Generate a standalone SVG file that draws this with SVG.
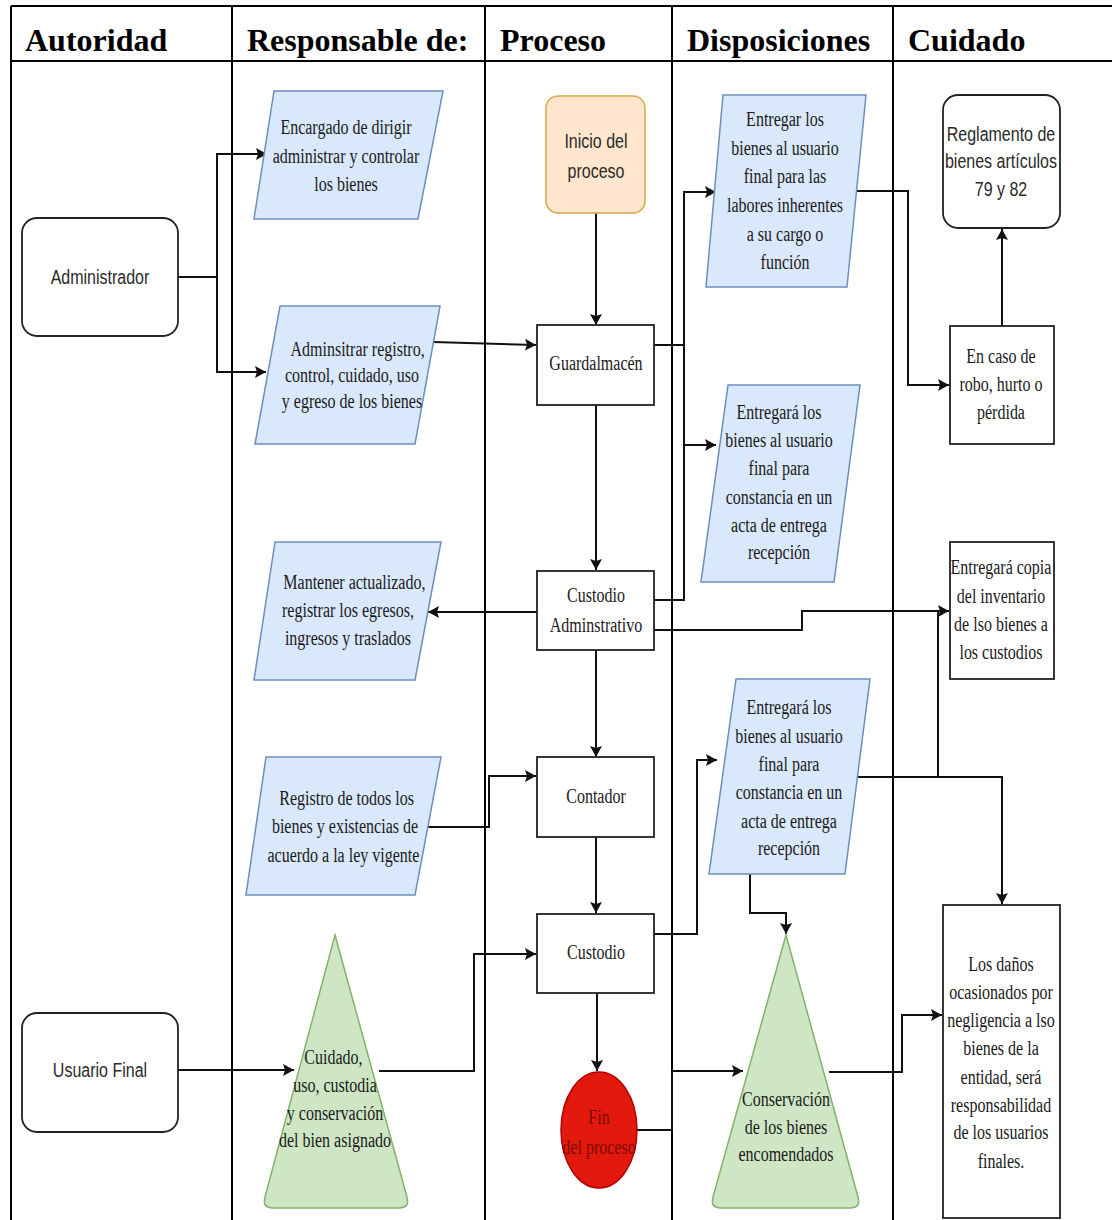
<svg xmlns="http://www.w3.org/2000/svg" width="1112" height="1220" viewBox="0 0 1112 1220">
<style>
.tl{stroke:#000;stroke-width:2;fill:none}
.hd{font-family:"Liberation Serif",serif;font-weight:bold;font-size:32px;fill:#000}
.c{fill:none;stroke:#111;stroke-width:2}
.ca{marker-end:url(#arr)}
.para{fill:#dae8fc;stroke:#6c8ebf;stroke-width:1.5}
.box{fill:#fff;stroke:#222;stroke-width:1.8}
.tri{fill:#cfe6c4;stroke:#82b366;stroke-width:1.5}
.t{font-family:"Liberation Serif",serif;font-size:20px;fill:#1a1a1a;text-anchor:middle}
.s{font-family:"Liberation Sans",sans-serif;font-size:20px;fill:#2a2a2a;text-anchor:middle}
</style>
<defs>
<marker id="arr" markerWidth="11" markerHeight="12" refX="11" refY="6" orient="auto" markerUnits="userSpaceOnUse">
<path d="M0,0 L11,6 L0,12 L2,6 Z" fill="#111"/>
</marker>
</defs>
<rect width="1112" height="1220" fill="#fff"/>
<g id="table">
<path class="tl" d="M11,6 H1112 M11,61 H1112 M11,6 V1220 M232,6 V1220 M485,6 V1220 M672,6 V1220 M893,6 V1220"/>
<text class="hd" x="25" y="51">Autoridad</text>
<text class="hd" x="247" y="51">Responsable de:</text>
<text class="hd" x="500" y="51">Proceso</text>
<text class="hd" x="687" y="51">Disposiciones</text>
<text class="hd" x="908" y="51">Cuidado</text>
</g>
<g id="connectors">
<path class="c ca" d="M178,277 H217 V154 H267"/>
<path class="c ca" d="M217,277 V372 H266"/>
<path class="c ca" d="M433,342 L536,345"/>
<path class="c ca" d="M596,213 V325"/>
<path class="c ca" d="M596,405 V570"/>
<path class="c ca" d="M596,650 V757"/>
<path class="c ca" d="M596,837 V913"/>
<path class="c ca" d="M597,993 V1071"/>
<path class="c ca" d="M654,345 H684 V192 H716"/>
<path class="c" d="M684,345 V600 H654"/>
<path class="c ca" d="M684,445 H716"/>
<path class="c ca" d="M537,612 H428"/>
<path class="c ca" d="M654,630 H802 V611 H949"/>
<path class="c ca" d="M856,191 H908 V385 H949"/>
<path class="c ca" d="M1002,326 V229"/>
<path class="c ca" d="M428,827 H489 V776 H536"/>
<path class="c ca" d="M654,934 H697 V760 H717"/>
<path class="c ca" d="M858,777 H1002 V904"/>
<path class="c" d="M938,777 V611"/>
<path class="c ca" d="M750,874 V913 H786 V934"/>
<path class="c ca" d="M178,1070 H294"/>
<path class="c ca" d="M379,1071 H474 V954 H536"/>
<path class="c ca" d="M637,1130 H672 V1071 H743"/>
<path class="c ca" d="M829,1072 H902 V1015 H942"/>
</g>
<g id="administrador">
<rect class="box" x="22" y="218" width="156" height="118" rx="15"/>
<text class="s" x="100" y="284" transform="matrix(0.8 0 0 1 20 0)">Administrador</text>
</g>
<g id="usuario-final">
<rect class="box" x="22" y="1013" width="156" height="119" rx="15"/>
<text class="s" x="100" y="1077" transform="matrix(0.8 0 0 1 20 0)">Usuario Final</text>
</g>
<g id="encargado">
<polygon class="para" points="274,91 443,91 418,219 254,219"/>
<text class="t" transform="matrix(0.8 0 0 1 69.2 0)"><tspan x="346" y="134">Encargado de dirigir</tspan><tspan x="346" y="163">administrar y controlar</tspan><tspan x="346" y="191">los bienes</tspan></text>
</g>
<g id="adminsitrar">
<polygon class="para" points="280,306 440,306 415,444 255,444"/>
<text class="t" transform="matrix(0.8 0 0 1 70.4 0)"><tspan x="359" y="356">Adminsitrar registro,</tspan><tspan x="352" y="382">control, cuidado, uso</tspan><tspan x="352" y="408">y egreso de los bienes</tspan></text>
</g>
<g id="mantener">
<polygon class="para" points="275,542 441,542 415,680 254,680"/>
<text class="t" transform="matrix(0.8 0 0 1 69.6 0)"><tspan x="356" y="589">Mantener actualizado,</tspan><tspan x="348" y="617">registrar los egresos,</tspan><tspan x="348" y="645">ingresos y traslados</tspan></text>
</g>
<g id="registro">
<polygon class="para" points="266,757 441,757 415,895 246,895"/>
<text class="t" transform="matrix(0.8 0 0 1 69 0)"><tspan x="347" y="805">Registro de todos los</tspan><tspan x="345" y="833">bienes y existencias de</tspan><tspan x="343" y="862">acuerdo a la ley vigente</tspan></text>
</g>
<g id="cuidado">
<path class="tri" d="M335,935 L407,1197 Q410,1208 399,1208 L273,1208 Q262,1208 265,1197 Z"/>
<text class="t" transform="matrix(0.8 0 0 1 67 0)"><tspan x="333" y="1064">Cuidado,</tspan><tspan x="335" y="1092">uso, custodia</tspan><tspan x="335" y="1120">y conservación</tspan><tspan x="335" y="1147">del bien asignado</tspan></text>
</g>
<g id="inicio">
<rect x="546" y="96" width="99" height="117" rx="12" fill="#ffe6cc" stroke="#d6a94a" stroke-width="1.5"/>
<text class="s" transform="matrix(0.8 0 0 1 119.2 0)"><tspan x="596" y="148">Inicio del</tspan><tspan x="596" y="178">proceso</tspan></text>
</g>
<g id="guardalmacen">
<rect class="box" x="537" y="325" width="117" height="80"/>
<text class="t" x="596" y="370" transform="matrix(0.8 0 0 1 119.2 0)">Guardalmacén</text>
</g>
<g id="custodio-administrativo">
<rect class="box" x="537" y="571" width="117" height="79"/>
<text class="t" transform="matrix(0.8 0 0 1 119.2 0)"><tspan x="596" y="602">Custodio</tspan><tspan x="596" y="632">Adminstrativo</tspan></text>
</g>
<g id="contador">
<rect class="box" x="537" y="757" width="117" height="80"/>
<text class="t" x="596" y="803" transform="matrix(0.8 0 0 1 119.2 0)">Contador</text>
</g>
<g id="custodio">
<rect class="box" x="537" y="914" width="117" height="79"/>
<text class="t" x="596" y="959" transform="matrix(0.8 0 0 1 119.2 0)">Custodio</text>
</g>
<g id="fin">
<ellipse cx="599" cy="1130" rx="38" ry="58" fill="#e3190e" stroke="#b00000" stroke-width="1.5"/>
<text class="t" style="fill:#7a0a00" transform="matrix(0.8 0 0 1 119.8 0)"><tspan x="599" y="1124">Fin</tspan><tspan x="599" y="1154">del proceso</tspan></text>
</g>
<g id="entregar-labores">
<polygon class="para" points="723,95 866,95 847,287 706,287"/>
<text class="t" transform="matrix(0.8 0 0 1 157 0)"><tspan x="785" y="126">Entregar los</tspan><tspan x="785" y="155">bienes al usuario</tspan><tspan x="785" y="183">final para las</tspan><tspan x="785" y="212">labores inherentes</tspan><tspan x="785" y="241">a su cargo o</tspan><tspan x="785" y="269">función</tspan></text>
</g>
<g id="entregara-acta-1">
<polygon class="para" points="728,385 860,385 834,582 701,582"/>
<text class="t" transform="matrix(0.8 0 0 1 155.8 0)"><tspan x="779" y="419">Entregará los</tspan><tspan x="779" y="447">bienes al usuario</tspan><tspan x="779" y="475">final para</tspan><tspan x="779" y="504">constancia en un</tspan><tspan x="779" y="532">acta de entrega</tspan><tspan x="779" y="559">recepción</tspan></text>
</g>
<g id="entregara-acta-2">
<polygon class="para" points="736,679 870,679 845,874 709,874"/>
<text class="t" transform="matrix(0.8 0 0 1 157.8 0)"><tspan x="789" y="714">Entregará los</tspan><tspan x="789" y="743">bienes al usuario</tspan><tspan x="789" y="771">final para</tspan><tspan x="789" y="799">constancia en un</tspan><tspan x="789" y="828">acta de entrega</tspan><tspan x="789" y="855">recepción</tspan></text>
</g>
<g id="conservacion">
<path class="tri" d="M786,935 L858,1197 Q861,1208 850,1208 L721,1208 Q710,1208 713,1197 Z"/>
<text class="t" transform="matrix(0.8 0 0 1 157.2 0)"><tspan x="786" y="1106">Conservación</tspan><tspan x="786" y="1134">de los bienes</tspan><tspan x="786" y="1161">encomendados</tspan></text>
</g>
<g id="reglamento">
<rect class="box" x="943" y="95" width="117" height="133" rx="15"/>
<text class="s" transform="matrix(0.8 0 0 1 200.2 0)"><tspan x="1001" y="141">Reglamento de</tspan><tspan x="1001" y="168">bienes artículos</tspan><tspan x="1001" y="196">79 y 82</tspan></text>
</g>
<g id="en-caso">
<rect class="box" x="950" y="326" width="104" height="118"/>
<text class="t" transform="matrix(0.8 0 0 1 200.2 0)"><tspan x="1001" y="363">En caso de</tspan><tspan x="1001" y="391">robo, hurto o</tspan><tspan x="1001" y="419">pérdida</tspan></text>
</g>
<g id="entregara-copia">
<rect class="box" x="950" y="542" width="104" height="137"/>
<text class="t" transform="matrix(0.8 0 0 1 200.2 0)"><tspan x="1001" y="574">Entregará copia</tspan><tspan x="1001" y="603">del inventario</tspan><tspan x="1001" y="631">de lso bienes a</tspan><tspan x="1001" y="659">los custodios</tspan></text>
</g>
<g id="los-danos">
<rect class="box" x="943" y="905" width="117" height="313"/>
<text class="t" transform="matrix(0.8 0 0 1 200.2 0)"><tspan x="1001" y="971">Los daños</tspan><tspan x="1001" y="999">ocasionados por</tspan><tspan x="1001" y="1027">negligencia a lso</tspan><tspan x="1001" y="1055">bienes de la</tspan><tspan x="1001" y="1084">entidad, será</tspan><tspan x="1001" y="1112">responsabilidad</tspan><tspan x="1001" y="1139">de los usuarios</tspan><tspan x="1001" y="1168">finales.</tspan></text>
</g>
</svg>
